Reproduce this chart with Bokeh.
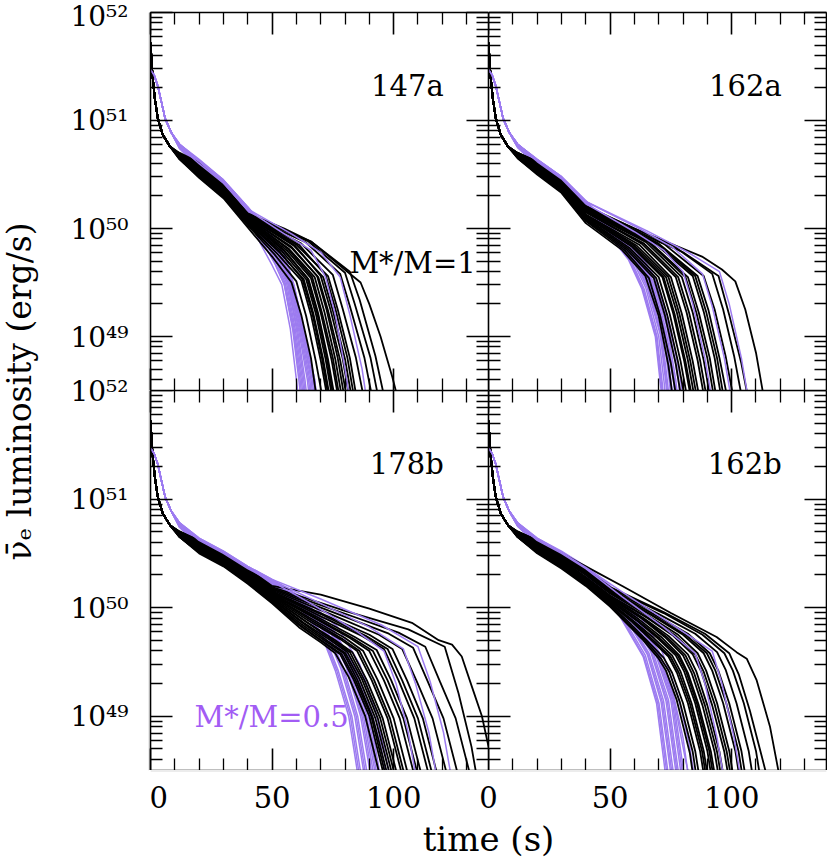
from bokeh.plotting import figure
from bokeh.models import Range1d, LinearAxis, LogAxis, FixedTicker, CustomJSTickFormatter, Label
from bokeh.layouts import row, column
from bokeh.embed import file_html
from bokeh.resources import INLINE

# ---------------- data (time in s, log10 luminosity in erg/s) ----------------
panel_names = ["147a", "162a", "178b", "162b"]
x_ticks = [0, 50, 100]
x_tick_labels = ["0", "50", "100"]
x_minor = [10, 20, 30, 40, 60, 70, 80, 90, 110, 120, 130]
y_decades = [49, 50, 51, 52]
y_tick_labels = ["10\u2074\u2079", "10\u2075\u2070", "10\u2075\u00b9", "10\u2075\u00b2"]

# shared start of every curve (t, logL pairs flattened)
black_start = [0, 51.72, 0.8, 51.42, 1.8, 51.2, 3, 51.02, 5, 50.87, 8, 50.76]
purple_start = [0, 51.47, 1.5, 51.42, 3, 51.32, 4.5, 51.17, 6, 51.02, 8.5, 50.89]

p147a_black = [
    [12, 50.64, 20, 50.47, 30, 50.28, 40, 50.01, 50, 49.74, 58, 49.5, 62, 49.2, 66, 48.8, 68.5, 48.4],
    [12, 50.64, 20, 50.48, 30, 50.29, 40, 50.03, 51, 49.76, 60, 49.51, 64, 49.19, 68, 48.77, 71, 48.4],
    [12, 50.65, 20, 50.49, 30, 50.3, 40, 50.04, 52, 49.77, 62, 49.52, 66, 49.2, 70, 48.78, 73, 48.4],
    [12, 50.65, 20, 50.5, 30, 50.31, 40, 50.05, 53, 49.78, 63, 49.53, 67, 49.21, 71, 48.79, 74, 48.4],
    [12, 50.66, 20, 50.51, 30, 50.32, 40, 50.06, 54, 49.79, 64, 49.53, 68, 49.21, 72, 48.79, 75, 48.4],
    [12, 50.66, 20, 50.52, 30, 50.33, 40, 50.07, 55, 49.79, 65, 49.53, 69, 49.21, 73, 48.79, 76, 48.4],
    [12, 50.66, 20, 50.53, 30, 50.34, 40, 50.08, 56, 49.8, 66, 49.54, 70, 49.22, 74.5, 48.78, 77.5, 48.4],
    [12, 50.67, 20, 50.54, 30, 50.35, 40, 50.09, 57, 49.81, 67.5, 49.55, 71.5, 49.23, 76, 48.79, 79, 48.4],
    [12, 50.67, 20, 50.55, 30, 50.36, 40, 50.1, 58, 49.82, 69, 49.55, 73, 49.24, 78, 48.78, 81, 48.4],
    [12, 50.68, 20, 50.56, 30, 50.37, 40, 50.11, 59, 49.84, 71, 49.55, 75, 49.24, 80, 48.79, 83, 48.4],
    [12, 50.68, 20, 50.57, 30, 50.37, 40, 50.11, 60, 49.85, 73, 49.56, 77, 49.25, 82, 48.8, 85, 48.4],
    [12, 50.68, 20, 50.58, 30, 50.38, 40, 50.12, 62, 49.86, 75, 49.57, 79, 49.26, 84.5, 48.8, 88, 48.4],
    [12, 50.69, 20, 50.59, 30, 50.39, 40, 50.12, 64, 49.87, 78, 49.58, 82, 49.28, 88, 48.8, 91.5, 48.4],
    [12, 50.69, 20, 50.6, 30, 50.39, 40, 50.13, 65, 49.88, 80, 49.59, 84, 49.3, 90.5, 48.8, 94, 48.4],
    [12, 50.69, 20, 50.6, 30, 50.4, 40, 50.13, 66, 49.88, 82, 49.6, 86, 49.34, 92.5, 48.82, 96.5, 48.4],
    [12, 50.7, 20, 50.61, 30, 50.4, 40, 50.14, 55, 50.0, 66, 49.88, 81, 49.6, 86.4, 49.5, 90, 49.3, 94.6, 49.0, 99.5, 48.62, 102, 48.4],
    [12, 50.65, 20, 50.5, 30, 50.32, 40, 50.06, 53, 49.79, 62.5, 49.53, 66.5, 49.22, 70.5, 48.8, 73.5, 48.4],
    [12, 50.66, 20, 50.52, 30, 50.34, 40, 50.08, 55, 49.8, 64.5, 49.54, 68.5, 49.22, 72.5, 48.8, 75.5, 48.4],
    [12, 50.67, 20, 50.54, 30, 50.35, 40, 50.09, 56.5, 49.81, 66.5, 49.55, 70.5, 49.22, 75, 48.8, 78, 48.4],
    [12, 50.67, 20, 50.55, 30, 50.36, 40, 50.1, 58, 49.83, 68.5, 49.56, 72.5, 49.24, 77, 48.8, 80, 48.4],
    [12, 50.68, 20, 50.56, 30, 50.37, 40, 50.11, 59.5, 49.84, 70, 49.56, 74, 49.25, 79, 48.8, 82, 48.4],
    [12, 50.68, 20, 50.58, 30, 50.38, 40, 50.12, 61, 49.85, 72, 49.57, 76, 49.26, 81, 48.8, 84, 48.4],
]
p147a_purple = [
    [12, 50.74, 20, 50.56, 30, 50.39, 40, 50.14, 45, 49.87, 50, 49.66, 54, 49.48, 57.5, 49.07, 60, 48.6, 61, 48.4],
    [12, 50.74, 20, 50.57, 30, 50.4, 40, 50.15, 45.5, 49.9, 51, 49.68, 55, 49.48, 58.5, 49.06, 61, 48.6, 62, 48.4],
    [12, 50.75, 20, 50.58, 30, 50.41, 40, 50.16, 46, 49.92, 51.5, 49.7, 55.5, 49.49, 59, 49.08, 62, 48.6, 63, 48.4],
    [12, 50.75, 20, 50.59, 30, 50.41, 40, 50.16, 46, 49.94, 52, 49.71, 56, 49.49, 59.5, 49.07, 62.5, 48.6, 63.5, 48.4],
    [12, 50.76, 20, 50.6, 30, 50.42, 40, 50.17, 46.5, 49.95, 52.5, 49.72, 56.5, 49.5, 60.5, 49.06, 63.5, 48.6, 64.5, 48.4],
    [12, 50.76, 20, 50.61, 30, 50.43, 40, 50.18, 47, 49.96, 53, 49.74, 57, 49.5, 61, 49.05, 64.5, 48.6, 65.5, 48.4],
    [12, 50.77, 20, 50.62, 30, 50.43, 40, 50.18, 47, 49.98, 53.5, 49.75, 57.5, 49.49, 62, 49.03, 65.5, 48.6, 66.5, 48.4],
    [12, 50.77, 20, 50.63, 30, 50.44, 40, 50.19, 47.5, 49.99, 54, 49.76, 58, 49.5, 62.5, 49.02, 66, 48.6, 67, 48.4],
    [12, 50.78, 20, 50.63, 30, 50.44, 40, 50.19, 48, 50.0, 55, 49.76, 58.5, 49.48, 63, 49.01, 67, 48.6, 68, 48.4],
    [12, 50.78, 20, 50.64, 30, 50.45, 40, 50.2, 46, 50.02, 52, 49.78, 59, 49.47, 63.8, 49.0, 67.5, 48.6, 68.5, 48.4],
    [12, 50.75, 20, 50.58, 30, 50.4, 40, 50.15, 45.5, 49.89, 51, 49.69, 55, 49.49, 58.7, 49.07, 61.5, 48.6, 62.5, 48.4],
    [12, 50.76, 20, 50.6, 30, 50.42, 40, 50.17, 46.5, 49.94, 52.5, 49.72, 56.5, 49.49, 60, 49.07, 63, 48.6, 64, 48.4],
    [12, 50.77, 20, 50.61, 30, 50.43, 40, 50.18, 47, 49.97, 53, 49.74, 57, 49.5, 61.5, 49.04, 65, 48.6, 66, 48.4],
    [12, 50.77, 20, 50.62, 30, 50.44, 40, 50.19, 47.5, 49.98, 54, 49.75, 58, 49.49, 62.5, 49.02, 66.5, 48.6, 67.5, 48.4],
    [12, 50.78, 20, 50.63, 30, 50.45, 40, 50.2, 48, 50.0, 55, 49.77, 59, 49.48, 63.5, 49.0, 67.5, 48.6, 68.5, 48.4],
]
p147a_purple_late = [
    [12, 50.76, 20, 50.6, 30, 50.42, 40, 50.17, 55, 49.95, 66, 49.8, 72, 49.55, 76, 49.2, 80, 48.7, 82, 48.4],
    [12, 50.77, 20, 50.62, 30, 50.43, 40, 50.18, 58, 49.95, 70, 49.78, 78, 49.55, 82, 49.2, 87, 48.7, 89, 48.4],
]

p162a_black = [
    [12, 50.65, 20, 50.5, 30, 50.33, 40, 50.05, 55, 49.8, 64.5, 49.56, 70, 49.19, 74, 48.73, 76, 48.4],
    [12, 50.65, 20, 50.51, 30, 50.34, 40, 50.07, 56, 49.8, 66, 49.54, 70.5, 49.2, 75, 48.75, 77.5, 48.4],
    [12, 50.66, 20, 50.52, 30, 50.35, 40, 50.08, 57, 49.8, 68, 49.54, 72.5, 49.2, 77, 48.75, 79.5, 48.4],
    [12, 50.66, 20, 50.53, 30, 50.36, 40, 50.1, 58, 49.82, 70, 49.55, 74.5, 49.21, 79, 48.77, 82, 48.4],
    [12, 50.67, 20, 50.54, 30, 50.37, 40, 50.11, 59, 49.83, 71.5, 49.55, 76, 49.21, 80.5, 48.77, 83.5, 48.4],
    [12, 50.67, 20, 50.55, 30, 50.38, 40, 50.12, 60, 49.84, 73, 49.55, 77.5, 49.22, 82, 48.78, 85, 48.4],
    [12, 50.67, 20, 50.56, 30, 50.39, 40, 50.13, 62, 49.85, 75, 49.55, 79.5, 49.21, 84, 48.77, 87, 48.4],
    [12, 50.68, 20, 50.57, 30, 50.4, 40, 50.15, 63, 49.86, 77, 49.55, 81.5, 49.22, 86, 48.78, 89, 48.4],
    [12, 50.68, 20, 50.58, 30, 50.41, 40, 50.16, 65, 49.87, 79.5, 49.55, 84, 49.22, 88.5, 48.78, 91.5, 48.4],
    [12, 50.68, 20, 50.58, 30, 50.41, 40, 50.17, 66, 49.88, 82, 49.55, 86.5, 49.22, 91, 48.8, 94, 48.4],
    [12, 50.69, 20, 50.59, 30, 50.42, 40, 50.18, 68, 49.87, 84, 49.56, 88.5, 49.23, 93, 48.8, 96, 48.4],
    [12, 50.69, 20, 50.6, 30, 50.42, 40, 50.18, 70, 49.86, 86, 49.56, 90.5, 49.24, 95, 48.8, 98.5, 48.4],
    [12, 50.69, 20, 50.6, 30, 50.43, 40, 50.19, 72, 49.86, 88.5, 49.56, 93, 49.25, 97.5, 48.82, 101, 48.4],
    [12, 50.7, 20, 50.61, 30, 50.44, 40, 50.2, 76, 49.84, 92, 49.58, 96.5, 49.25, 101, 48.82, 104.5, 48.4],
    [12, 50.7, 20, 50.62, 30, 50.44, 40, 50.2, 60, 49.98, 80, 49.78, 94.6, 49.56, 99, 49.2, 104, 48.75, 107, 48.4],
    [12, 50.7, 20, 50.62, 30, 50.45, 40, 50.21, 60, 50.0, 87.8, 49.74, 96, 49.62, 101.5, 49.51, 105.6, 49.25, 110, 48.85, 113.5, 48.4],
    [12, 50.66, 20, 50.52, 30, 50.35, 40, 50.09, 57.5, 49.81, 69, 49.54, 73.5, 49.2, 78, 48.76, 81, 48.4],
    [12, 50.67, 20, 50.54, 30, 50.37, 40, 50.11, 59.5, 49.83, 72, 49.55, 76.5, 49.21, 81, 48.77, 84, 48.4],
    [12, 50.67, 20, 50.55, 30, 50.38, 40, 50.13, 61, 49.84, 74, 49.55, 78.5, 49.21, 83, 48.77, 86, 48.4],
    [12, 50.68, 20, 50.57, 30, 50.4, 40, 50.15, 64, 49.86, 78, 49.55, 82.5, 49.22, 87, 48.78, 90, 48.4],
    [12, 50.68, 20, 50.58, 30, 50.41, 40, 50.16, 66, 49.87, 81, 49.55, 85.5, 49.22, 90, 48.8, 93, 48.4],
    [12, 50.69, 20, 50.59, 30, 50.42, 40, 50.17, 69, 49.87, 85, 49.56, 89.5, 49.23, 94, 48.8, 97, 48.4],
]
p162a_purple = [
    [12, 50.75, 20, 50.58, 30, 50.43, 40, 50.18, 50, 49.93, 57.6, 49.71, 63.1, 49.44, 68.6, 49.0, 70.6, 48.58, 71.5, 48.4],
    [12, 50.75, 20, 50.59, 30, 50.44, 40, 50.19, 50, 49.94, 58.5, 49.71, 64, 49.44, 69.3, 49.0, 71.4, 48.58, 72.2, 48.4],
    [12, 50.76, 20, 50.6, 30, 50.44, 40, 50.2, 50, 49.95, 59, 49.72, 64.7, 49.45, 70, 49.0, 72.2, 48.58, 73, 48.4],
    [12, 50.76, 20, 50.6, 30, 50.45, 40, 50.21, 50, 49.96, 59.5, 49.73, 65.2, 49.46, 70.6, 49.02, 72.9, 48.58, 73.7, 48.4],
    [12, 50.76, 20, 50.61, 30, 50.45, 40, 50.22, 50, 49.97, 60, 49.74, 65.8, 49.47, 71.2, 49.03, 73.6, 48.58, 74.4, 48.4],
    [12, 50.77, 20, 50.62, 30, 50.46, 40, 50.23, 50, 49.98, 60, 49.76, 66.3, 49.48, 71.8, 49.04, 74.3, 48.6, 75.2, 48.4],
    [12, 50.77, 20, 50.62, 30, 50.46, 40, 50.23, 50, 49.99, 60, 49.77, 66.8, 49.49, 72.5, 49.05, 75, 48.6, 76, 48.4],
    [12, 50.78, 20, 50.63, 30, 50.47, 40, 50.24, 50, 50.0, 60, 49.77, 67, 49.5, 72, 49.1, 76, 48.6, 77, 48.4],
    [12, 50.78, 20, 50.64, 30, 50.48, 40, 50.25, 50, 50.01, 61, 49.78, 68, 49.5, 73.5, 49.08, 77, 48.6, 78, 48.4],
    [12, 50.78, 20, 50.64, 30, 50.48, 40, 50.26, 50, 50.02, 62, 49.79, 69.5, 49.5, 75, 49.07, 79, 48.6, 80, 48.4],
    [12, 50.75, 20, 50.59, 30, 50.43, 40, 50.19, 50, 49.94, 58, 49.71, 63.5, 49.44, 69, 49.0, 71, 48.58, 71.8, 48.4],
    [12, 50.76, 20, 50.6, 30, 50.45, 40, 50.21, 50, 49.96, 59.7, 49.73, 65.5, 49.46, 70.9, 49.02, 73.2, 48.58, 74, 48.4],
    [12, 50.77, 20, 50.62, 30, 50.46, 40, 50.23, 50, 49.98, 60, 49.76, 66.5, 49.48, 72.2, 49.04, 74.7, 48.6, 75.6, 48.4],
    [12, 50.78, 20, 50.63, 30, 50.47, 40, 50.24, 50, 50.0, 60.5, 49.77, 67.5, 49.5, 72.8, 49.08, 76.5, 48.6, 77.5, 48.4],
    [12, 50.78, 20, 50.64, 30, 50.48, 40, 50.25, 50, 50.01, 61.5, 49.78, 69, 49.5, 74.3, 49.08, 78, 48.6, 79, 48.4],
]
p162a_purple_late = [
    [12, 50.77, 20, 50.62, 30, 50.46, 40, 50.23, 60, 49.97, 72, 49.8, 80, 49.6, 84, 49.3, 89, 48.8, 92, 48.4],
    [12, 50.78, 20, 50.63, 30, 50.47, 40, 50.25, 62, 50.0, 76, 49.82, 88, 49.58, 92, 49.28, 97, 48.8, 100, 48.4],
    [12, 50.78, 20, 50.63, 30, 50.47, 40, 50.25, 65, 49.98, 82, 49.78, 95, 49.6, 99, 49.3, 104, 48.8, 107, 48.4],
]

p178b_black = [
    [12, 50.65, 20, 50.5, 30, 50.38, 40, 50.22, 50, 50.04, 61, 49.82, 70, 49.68, 76, 49.58, 81.5, 49.36, 88.3, 49.0, 93.8, 48.5, 95, 48.4],
    [12, 50.65, 20, 50.51, 30, 50.39, 40, 50.23, 50, 50.05, 61, 49.84, 71, 49.68, 78, 49.57, 83.5, 49.34, 90, 49.0, 95.5, 48.5, 96.5, 48.4],
    [12, 50.66, 20, 50.52, 30, 50.4, 40, 50.24, 50, 50.06, 62, 49.85, 72, 49.69, 79.5, 49.58, 85, 49.34, 91.5, 48.98, 97, 48.5, 98, 48.4],
    [12, 50.66, 20, 50.53, 30, 50.41, 40, 50.25, 50, 50.08, 63, 49.86, 74, 49.7, 81, 49.59, 87, 49.34, 93.5, 48.98, 99, 48.5, 100, 48.4],
    [12, 50.67, 20, 50.54, 30, 50.42, 40, 50.26, 50, 50.09, 64, 49.87, 76, 49.7, 83, 49.59, 89, 49.33, 95.5, 48.98, 101, 48.5, 102, 48.4],
    [12, 50.67, 20, 50.55, 30, 50.43, 40, 50.27, 50, 50.1, 65, 49.88, 78, 49.71, 85, 49.6, 91, 49.33, 97.5, 48.98, 103, 48.5, 104, 48.4],
    [12, 50.67, 20, 50.56, 30, 50.43, 40, 50.28, 50, 50.11, 66, 49.9, 80, 49.72, 87.5, 49.6, 93.5, 49.33, 100, 48.98, 105.5, 48.5, 106.5, 48.4],
    [12, 50.68, 20, 50.57, 30, 50.44, 40, 50.29, 50, 50.12, 67, 49.91, 82, 49.72, 90, 49.6, 96, 49.33, 102.5, 48.98, 108, 48.5, 109, 48.4],
    [12, 50.68, 20, 50.58, 30, 50.45, 40, 50.3, 50, 50.13, 68, 49.92, 84, 49.73, 93, 49.61, 99, 49.33, 105.5, 48.98, 111, 48.5, 112, 48.4],
    [12, 50.68, 20, 50.58, 30, 50.46, 40, 50.31, 50, 50.14, 70, 49.92, 87, 49.74, 96, 49.62, 102, 49.33, 108.5, 48.98, 114, 48.5, 115, 48.4],
    [12, 50.69, 20, 50.59, 30, 50.46, 40, 50.32, 50, 50.15, 72, 49.93, 90, 49.75, 99.5, 49.62, 105.5, 49.33, 112, 48.98, 117.5, 48.5, 118.5, 48.4],
    [12, 50.69, 20, 50.6, 30, 50.47, 40, 50.33, 50, 50.16, 74, 49.94, 94, 49.75, 103.5, 49.62, 109.5, 49.32, 116, 48.98, 121.5, 48.5, 122.5, 48.4],
    [12, 50.69, 20, 50.6, 30, 50.48, 40, 50.34, 50, 50.17, 76, 49.95, 98, 49.76, 108, 49.63, 114, 49.32, 120.5, 48.98, 126, 48.5, 127, 48.4],
    [12, 50.7, 20, 50.61, 30, 50.48, 40, 50.35, 50, 50.18, 78, 49.96, 102, 49.77, 113, 49.64, 119, 49.32, 125.5, 48.98, 131, 48.5, 132, 48.4],
    [12, 50.7, 20, 50.61, 30, 50.49, 40, 50.35, 50, 50.19, 80, 49.97, 106, 49.8, 121, 49.64, 126.7, 49.21, 132, 48.72, 134.5, 48.4],
    [12, 50.7, 20, 50.62, 30, 50.5, 40, 50.36, 50, 50.2, 70, 50.12, 90, 49.99, 107.5, 49.86, 118.5, 49.7, 124, 49.66, 128, 49.55, 132.2, 49.27, 136.3, 49.0, 139, 48.72, 142, 48.4],
    [12, 50.65, 20, 50.51, 30, 50.39, 40, 50.23, 50, 50.05, 61.5, 49.84, 71.5, 49.68, 78.7, 49.57, 84.2, 49.34, 90.8, 49.0, 96.2, 48.5, 97.2, 48.4],
    [12, 50.66, 20, 50.53, 30, 50.41, 40, 50.25, 50, 50.07, 62.5, 49.86, 73, 49.69, 80.2, 49.58, 86, 49.34, 92.5, 48.98, 98, 48.5, 99, 48.4],
    [12, 50.67, 20, 50.54, 30, 50.42, 40, 50.26, 50, 50.09, 64, 49.87, 75, 49.7, 82, 49.59, 88, 49.33, 94.5, 48.98, 100, 48.5, 101, 48.4],
    [12, 50.67, 20, 50.56, 30, 50.43, 40, 50.28, 50, 50.11, 65.5, 49.89, 79, 49.71, 86, 49.6, 92, 49.33, 98.5, 48.98, 104, 48.5, 105, 48.4],
    [12, 50.68, 20, 50.57, 30, 50.44, 40, 50.29, 50, 50.12, 67.5, 49.91, 83, 49.72, 91.5, 49.6, 97.5, 49.33, 104, 48.98, 109.5, 48.5, 110.5, 48.4],
    [12, 50.69, 20, 50.59, 30, 50.46, 40, 50.31, 50, 50.14, 71, 49.93, 88.5, 49.74, 97.5, 49.62, 103.5, 49.33, 110, 48.98, 115.5, 48.5, 116.5, 48.4],
]
p178b_purple = [
    [12, 50.74, 20, 50.56, 30, 50.45, 40, 50.3, 50, 50.15, 60.9, 50.01, 70.5, 49.74, 76, 49.42, 81.5, 49.0, 85, 48.5, 85.8, 48.4],
    [12, 50.74, 20, 50.57, 30, 50.46, 40, 50.31, 50, 50.16, 61.5, 50.01, 71.5, 49.74, 77.2, 49.42, 82.8, 49.0, 86.3, 48.5, 87.1, 48.4],
    [12, 50.75, 20, 50.58, 30, 50.47, 40, 50.32, 50, 50.17, 62, 50.02, 72.5, 49.75, 78.4, 49.43, 84, 49.0, 87.6, 48.5, 88.4, 48.4],
    [12, 50.75, 20, 50.59, 30, 50.48, 40, 50.33, 50, 50.18, 62.5, 50.02, 73.2, 49.76, 79.5, 49.44, 85.2, 49.0, 88.9, 48.5, 89.7, 48.4],
    [12, 50.76, 20, 50.6, 30, 50.48, 40, 50.34, 50, 50.2, 63, 50.03, 74, 49.77, 80.5, 49.45, 86.4, 49.0, 90.2, 48.5, 91, 48.4],
    [12, 50.76, 20, 50.61, 30, 50.49, 40, 50.35, 50, 50.21, 63, 50.04, 74.5, 49.78, 81.5, 49.45, 87.6, 49.0, 91.5, 48.5, 92.3, 48.4],
    [12, 50.77, 20, 50.62, 30, 50.5, 40, 50.36, 50, 50.22, 63, 50.05, 75, 49.79, 82.5, 49.46, 88.8, 49.02, 92.8, 48.5, 93.6, 48.4],
    [12, 50.77, 20, 50.62, 30, 50.51, 40, 50.37, 50, 50.24, 63, 50.06, 75, 49.8, 83.5, 49.46, 90, 49.04, 94.1, 48.5, 95, 48.4],
    [12, 50.78, 20, 50.63, 30, 50.51, 40, 50.37, 50, 50.25, 63, 50.06, 75, 49.81, 84, 49.45, 90, 49.1, 94.5, 48.75, 96.6, 48.5, 97.5, 48.4],
    [12, 50.78, 20, 50.64, 30, 50.52, 40, 50.38, 50, 50.26, 64, 50.07, 77, 49.82, 86, 49.48, 92.5, 49.05, 97, 48.6, 98.8, 48.4],
    [12, 50.74, 20, 50.57, 30, 50.45, 40, 50.3, 50, 50.15, 61.2, 50.01, 71, 49.74, 76.6, 49.42, 82.2, 49.0, 85.6, 48.5, 86.4, 48.4],
    [12, 50.75, 20, 50.58, 30, 50.47, 40, 50.32, 50, 50.17, 62.2, 50.02, 72.8, 49.75, 79, 49.43, 84.6, 49.0, 88.2, 48.5, 89, 48.4],
    [12, 50.76, 20, 50.6, 30, 50.48, 40, 50.34, 50, 50.2, 63, 50.03, 74.2, 49.77, 81, 49.45, 87, 49.0, 90.8, 48.5, 91.6, 48.4],
    [12, 50.77, 20, 50.61, 30, 50.5, 40, 50.36, 50, 50.22, 63, 50.05, 74.8, 49.79, 82, 49.46, 88.2, 49.01, 92.2, 48.5, 93, 48.4],
    [12, 50.77, 20, 50.62, 30, 50.5, 40, 50.36, 50, 50.23, 63, 50.05, 75, 49.8, 83, 49.46, 89.4, 49.03, 93.5, 48.5, 94.3, 48.4],
]
p178b_purple_late = [
    [12, 50.77, 20, 50.62, 30, 50.5, 40, 50.36, 50, 50.24, 65, 50.05, 85, 49.78, 96, 49.6, 101, 49.3, 106, 48.85, 109.5, 48.4],
    [12, 50.78, 20, 50.63, 30, 50.51, 40, 50.37, 50, 50.25, 68, 50.06, 90, 49.82, 104, 49.62, 109, 49.3, 114.5, 48.85, 118, 48.4],
    [12, 50.78, 20, 50.64, 30, 50.52, 40, 50.38, 50, 50.26, 70, 50.08, 95, 49.84, 110, 49.64, 115, 49.32, 120.5, 48.85, 124, 48.4],
]

p162b_black = [
    [12, 50.65, 20, 50.5, 30, 50.36, 40, 50.2, 50, 50.01, 57, 49.85, 63.6, 49.7, 70, 49.53, 73, 49.42, 77.4, 49.15, 82.8, 48.66, 84.5, 48.4],
    [12, 50.65, 20, 50.51, 30, 50.37, 40, 50.21, 50, 50.03, 58, 49.86, 65, 49.7, 72, 49.54, 75.5, 49.4, 80, 49.12, 85, 48.68, 87, 48.4],
    [12, 50.66, 20, 50.52, 30, 50.38, 40, 50.22, 50, 50.04, 59, 49.87, 66.5, 49.71, 74, 49.55, 77.5, 49.4, 82, 49.12, 87, 48.68, 89, 48.4],
    [12, 50.66, 20, 50.53, 30, 50.39, 40, 50.23, 50, 50.05, 60, 49.87, 68, 49.72, 75.5, 49.56, 79, 49.41, 83.5, 49.12, 88.5, 48.68, 90.5, 48.4],
    [12, 50.67, 20, 50.54, 30, 50.4, 40, 50.24, 50, 50.06, 61, 49.88, 69.5, 49.72, 77, 49.56, 80.5, 49.41, 85, 49.12, 90, 48.68, 92, 48.4],
    [12, 50.67, 20, 50.55, 30, 50.41, 40, 50.25, 50, 50.08, 62, 49.89, 71, 49.73, 78.5, 49.56, 82, 49.4, 86.5, 49.1, 91.5, 48.67, 93.5, 48.4],
    [12, 50.67, 20, 50.56, 30, 50.42, 40, 50.26, 50, 50.09, 63, 49.9, 72.5, 49.73, 80, 49.56, 83.5, 49.4, 88, 49.1, 93, 48.67, 95, 48.4],
    [12, 50.68, 20, 50.57, 30, 50.43, 40, 50.27, 50, 50.1, 64, 49.9, 74, 49.74, 82, 49.57, 85.5, 49.41, 90, 49.1, 95, 48.67, 97, 48.4],
    [12, 50.68, 20, 50.58, 30, 50.44, 40, 50.28, 50, 50.11, 65, 49.91, 76, 49.74, 84, 49.57, 87.5, 49.41, 92, 49.1, 97, 48.67, 99, 48.4],
    [12, 50.68, 20, 50.58, 30, 50.45, 40, 50.3, 50, 50.13, 66, 49.92, 78, 49.75, 86, 49.58, 89.5, 49.42, 94, 49.12, 99, 48.68, 101, 48.4],
    [12, 50.69, 20, 50.59, 30, 50.46, 40, 50.31, 50, 50.14, 67, 49.93, 80, 49.75, 88.5, 49.58, 92, 49.42, 96.5, 49.12, 101.5, 48.68, 103.5, 48.4],
    [12, 50.69, 20, 50.6, 30, 50.47, 40, 50.32, 50, 50.16, 68, 49.94, 82, 49.76, 91, 49.58, 94.5, 49.42, 99, 49.12, 104, 48.68, 106, 48.4],
    [12, 50.69, 20, 50.6, 30, 50.48, 40, 50.33, 50, 50.17, 70, 49.94, 85, 49.76, 94, 49.59, 97.5, 49.43, 102, 49.12, 107, 48.68, 109, 48.4],
    [12, 50.7, 20, 50.61, 30, 50.48, 40, 50.34, 50, 50.18, 72, 49.95, 88, 49.75, 97, 49.58, 100.5, 49.42, 105, 49.12, 110, 48.68, 112, 48.4],
    [12, 50.7, 20, 50.62, 30, 50.49, 40, 50.35, 50, 50.19, 72, 49.96, 89, 49.76, 99, 49.58, 103, 49.38, 107.5, 49.05, 112.5, 48.62, 115, 48.4],
    [12, 50.7, 20, 50.62, 30, 50.5, 40, 50.38, 55, 50.2, 75, 49.95, 93.8, 49.73, 102, 49.59, 106.2, 49.53, 110.3, 49.33, 115.8, 48.9, 119.2, 48.5, 120, 48.4],
    [12, 50.65, 20, 50.51, 30, 50.37, 40, 50.21, 50, 50.02, 57.5, 49.85, 64.3, 49.7, 71, 49.53, 74.3, 49.41, 78.7, 49.13, 84, 48.67, 85.8, 48.4],
    [12, 50.66, 20, 50.52, 30, 50.38, 40, 50.22, 50, 50.04, 59.5, 49.87, 67.3, 49.71, 74.8, 49.55, 78.3, 49.4, 82.8, 49.12, 87.8, 48.68, 89.8, 48.4],
    [12, 50.67, 20, 50.54, 30, 50.4, 40, 50.24, 50, 50.07, 61.5, 49.88, 70.3, 49.72, 77.8, 49.56, 81.3, 49.41, 85.8, 49.11, 90.8, 48.68, 92.8, 48.4],
    [12, 50.67, 20, 50.56, 30, 50.42, 40, 50.26, 50, 50.09, 63.5, 49.9, 73.3, 49.73, 81, 49.56, 84.5, 49.4, 89, 49.1, 94, 48.67, 96, 48.4],
    [12, 50.68, 20, 50.57, 30, 50.44, 40, 50.28, 50, 50.11, 65.5, 49.91, 77, 49.74, 85, 49.57, 88.5, 49.41, 93, 49.11, 98, 48.67, 100, 48.4],
    [12, 50.69, 20, 50.59, 30, 50.46, 40, 50.31, 50, 50.15, 67.5, 49.93, 81, 49.75, 89.8, 49.58, 93.3, 49.42, 97.8, 49.12, 102.8, 48.68, 104.8, 48.4],
]
p162b_purple = [
    [12, 50.75, 20, 50.58, 30, 50.45, 40, 50.3, 48, 50.1, 54, 49.92, 63.6, 49.55, 69.1, 49.12, 72.6, 48.5, 73.3, 48.4],
    [12, 50.75, 20, 50.59, 30, 50.46, 40, 50.31, 48, 50.11, 55, 49.92, 64.5, 49.56, 70.1, 49.12, 73.7, 48.5, 74.4, 48.4],
    [12, 50.76, 20, 50.6, 30, 50.47, 40, 50.32, 49, 50.11, 56, 49.92, 65.3, 49.57, 71, 49.13, 74.8, 48.5, 75.5, 48.4],
    [12, 50.76, 20, 50.6, 30, 50.48, 40, 50.33, 49, 50.12, 56.5, 49.93, 66, 49.58, 72, 49.14, 75.9, 48.5, 76.6, 48.4],
    [12, 50.76, 20, 50.61, 30, 50.48, 40, 50.34, 50, 50.13, 57, 49.94, 66.8, 49.59, 73, 49.14, 77, 48.5, 77.7, 48.4],
    [12, 50.77, 20, 50.62, 30, 50.49, 40, 50.35, 50, 50.14, 58, 49.94, 67.5, 49.6, 74, 49.15, 78, 48.5, 78.8, 48.4],
    [12, 50.77, 20, 50.62, 30, 50.5, 40, 50.36, 50, 50.15, 58.5, 49.95, 68.3, 49.6, 75, 49.15, 79, 48.5, 79.8, 48.4],
    [12, 50.78, 20, 50.63, 30, 50.51, 40, 50.37, 50, 50.17, 59, 49.96, 69, 49.61, 76, 49.15, 80.2, 48.5, 81, 48.4],
    [12, 50.78, 20, 50.64, 30, 50.51, 40, 50.37, 50, 50.19, 60, 49.95, 70, 49.6, 76, 49.2, 80, 48.8, 82.5, 48.4],
    [12, 50.78, 20, 50.64, 30, 50.52, 40, 50.38, 50, 50.2, 61, 49.96, 71, 49.62, 78, 49.18, 82.5, 48.75, 85, 48.4],
    [12, 50.75, 20, 50.59, 30, 50.46, 40, 50.31, 48, 50.1, 54.5, 49.92, 64, 49.55, 69.6, 49.12, 73.2, 48.5, 73.9, 48.4],
    [12, 50.76, 20, 50.6, 30, 50.47, 40, 50.33, 49, 50.12, 56.3, 49.93, 65.6, 49.57, 71.5, 49.13, 75.3, 48.5, 76, 48.4],
    [12, 50.76, 20, 50.61, 30, 50.49, 40, 50.34, 50, 50.13, 57.5, 49.94, 67.1, 49.59, 73.5, 49.14, 77.5, 48.5, 78.2, 48.4],
    [12, 50.77, 20, 50.62, 30, 50.5, 40, 50.36, 50, 50.16, 58.8, 49.95, 68.6, 49.6, 75.5, 49.15, 79.6, 48.5, 80.4, 48.4],
    [12, 50.78, 20, 50.63, 30, 50.51, 40, 50.37, 50, 50.18, 59.5, 49.96, 69.5, 49.6, 76, 49.18, 81, 48.6, 83, 48.4],
]
p162b_purple_late = [
    [12, 50.77, 20, 50.62, 30, 50.5, 40, 50.36, 55, 50.1, 72, 49.82, 85, 49.58, 89, 49.3, 94, 48.8, 97, 48.4],
    [12, 50.78, 20, 50.63, 30, 50.51, 40, 50.37, 58, 50.1, 76, 49.84, 92, 49.6, 96, 49.3, 101, 48.8, 104, 48.4],
]

# ---------------- styling ----------------
FONT = "DejaVu Serif"
BLACK = "#000000"
PURPLE = "#9d7cf0"
PURPLE_TEXT = "#a25cf4"
T_MAX = 139.0
LOG_MIN, LOG_MAX = 48.5, 52.0

y_major = [10.0 ** d for d in y_decades]
y_minor = [m * 10.0 ** k for k in range(48, 52) for m in range(2, 10) if m * 10.0 ** k >= 10 ** LOG_MIN]


def curves(start, lst):
    xs, ys = [], []
    for c in lst:
        pts = start + c
        xs.append(pts[0::2])
        ys.append([10.0 ** v for v in pts[1::2]])
    return xs, ys


def style_axis(ax):
    ax.major_label_text_font_size = "0px"
    ax.major_label_standoff = 0
    ax.axis_line_width = 1.6
    ax.axis_line_color = BLACK
    ax.major_tick_line_width = 1.6
    ax.major_tick_line_color = BLACK
    ax.minor_tick_line_width = 1.3
    ax.minor_tick_line_color = BLACK
    ax.major_tick_in = 22
    ax.major_tick_out = 0
    ax.minor_tick_in = 12
    ax.minor_tick_out = 0


def make_panel(top, right, name, black, purple, purple_late, note=None):
    p = figure(frame_width=338, frame_height=378 if top else 380,
               x_range=Range1d(0, T_MAX), y_range=Range1d(10 ** LOG_MIN, 10 ** LOG_MAX),
               y_axis_type="log", x_axis_location=None, y_axis_location=None,
               toolbar_location=None, output_backend="svg",
               min_border_left=0 if right else 1, min_border_right=1 if right else 0,
               min_border_top=13 if top else 0, min_border_bottom=0)
    p.outline_line_color = None
    p.xgrid.visible = False
    p.ygrid.visible = False
    for loc in ("left", "right"):
        ax = LogAxis(ticker=FixedTicker(ticks=y_major, minor_ticks=y_minor),
                     formatter=CustomJSTickFormatter(code="return ''"))
        style_axis(ax)
        p.add_layout(ax, loc)
    for loc in ("above", "below"):
        ax = LinearAxis(ticker=FixedTicker(ticks=x_ticks, minor_ticks=x_minor),
                        formatter=CustomJSTickFormatter(code="return ''"))
        style_axis(ax)
        p.add_layout(ax, loc)

    xs, ys = curves(purple_start, purple)
    p.multi_line(xs, ys, line_color=PURPLE, line_width=1.5)
    xs, ys = curves(black_start, black)
    p.multi_line(xs, ys, line_color=BLACK, line_width=1.8)
    xs, ys = curves(purple_start, purple_late)
    p.multi_line(xs, ys, line_color=PURPLE, line_width=1.5)

    p.add_layout(Label(x=120.6, y=10 ** 51.32, text=name, text_font=FONT,
                       text_font_size="29px", text_align="right",
                       text_baseline="alphabetic", text_color=BLACK))
    if note is not None:
        p.add_layout(note)
    return p


note1 = Label(x=81.8, y=10 ** 49.685, text="M*/M=1", text_font=FONT, text_font_size="29px",
              text_align="left", text_baseline="alphabetic", text_color=BLACK)
note2 = Label(x=18.1, y=10 ** 48.99, text="M*/M=0.5", text_font=FONT, text_font_size="29px",
              text_align="left", text_baseline="alphabetic", text_color=PURPLE_TEXT)

p1 = make_panel(True, False, panel_names[0], p147a_black, p147a_purple, p147a_purple_late, note1)
p2 = make_panel(True, True, panel_names[1], p162a_black, p162a_purple, p162a_purple_late)
p3 = make_panel(False, False, panel_names[2], p178b_black, p178b_purple, p178b_purple_late, note2)
p4 = make_panel(False, True, panel_names[3], p162b_black, p162b_purple, p162b_purple_late)

# y tick labels of the two stacked log panels (each panel spans 3.5 decades)
span = LOG_MAX - LOG_MIN
y_pos = [d - LOG_MIN for d in y_decades] + [d - LOG_MIN + span for d in y_decades]
y_lab = y_tick_labels + y_tick_labels
yfig = figure(frame_width=1, frame_height=758, min_border_left=150, min_border_right=0,
              min_border_top=13, min_border_bottom=95,
              x_range=Range1d(0, 1), y_range=Range1d(0, 2 * span),
              x_axis_location=None, y_axis_location=None,
              toolbar_location=None, output_backend="svg")
yfig.outline_line_color = None
ya = LinearAxis(ticker=FixedTicker(ticks=y_pos, minor_ticks=[]),
                formatter=CustomJSTickFormatter(args=dict(tv=y_pos, tl=y_lab),
                    code="for (let i = 0; i < tv.length; i++) { if (Math.abs(tv[i] - tick) < 1e-6) return tl[i]; } return '';"),
                axis_label="\u03bd\u0304\u2091 luminosity (erg/s)")
ya.axis_line_color = None
ya.major_tick_line_color = None
ya.minor_tick_line_color = None
ya.major_tick_in = 0
ya.major_tick_out = 0
ya.major_label_text_font = FONT
ya.major_label_text_font_size = "28px"
ya.major_label_text_color = BLACK
ya.major_label_standoff = 20
ya.axis_label_text_font = FONT
ya.axis_label_text_font_size = "33px"
ya.axis_label_text_font_style = "normal"
ya.axis_label_text_color = BLACK
ya.axis_label_standoff = 28
yfig.add_layout(ya, "left")

# x tick labels and title below both bottom panels
x_pos = x_ticks + [T_MAX + v for v in x_ticks]
x_lab = x_tick_labels + x_tick_labels
xfig = figure(frame_width=676, frame_height=1, min_border_left=1, min_border_right=1,
              min_border_top=0, min_border_bottom=88,
              x_range=Range1d(0, 2 * T_MAX), y_range=Range1d(0, 1),
              x_axis_location=None, y_axis_location=None,
              toolbar_location=None, output_backend="svg")
xfig.outline_line_color = None
xa = LinearAxis(ticker=FixedTicker(ticks=x_pos, minor_ticks=[]),
                formatter=CustomJSTickFormatter(args=dict(tv=x_pos, tl=x_lab),
                    code="for (let i = 0; i < tv.length; i++) { if (Math.abs(tv[i] - tick) < 1e-6) return tl[i]; } return '';"),
                axis_label="time (s)")
xa.axis_line_color = None
xa.major_tick_line_color = None
xa.minor_tick_line_color = None
xa.major_tick_in = 0
xa.major_tick_out = 0
xa.major_label_text_font = FONT
xa.major_label_text_font_size = "29px"
xa.major_label_text_color = BLACK
xa.major_label_standoff = 14
xa.axis_label_text_font = FONT
xa.axis_label_text_font_size = "34px"
xa.axis_label_text_font_style = "normal"
xa.axis_label_text_color = BLACK
xa.axis_label_standoff = 8
xfig.add_layout(xa, "below")

layout = row(yfig, column(row(p1, p2), row(p3, p4), xfig))
layout.margin = (-1, 0, 0, -3)

open("out.html", "w").write(file_html(layout, INLINE))
